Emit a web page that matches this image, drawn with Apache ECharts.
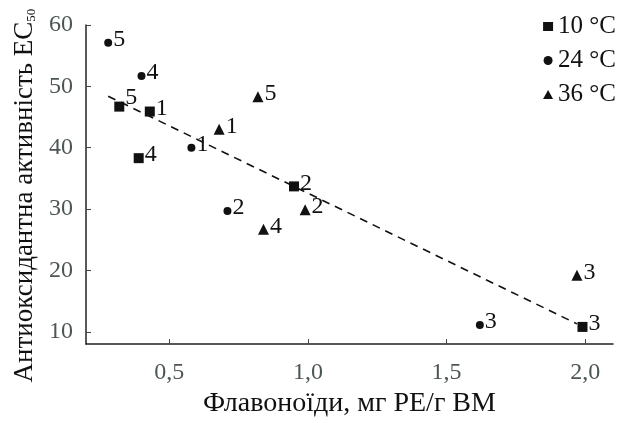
<!DOCTYPE html>
<html>
<head>
<meta charset="utf-8">
<script src="https://cdn.jsdelivr.net/npm/echarts@6/dist/echarts.min.js"></script>
<style>
  html, body { margin: 0; padding: 0; background: #fff; }
  #chart { width: 633px; height: 423px; }
</style>
</head>
<body>
<div id="chart"></div>
<script>
'use strict';

// sample numbers (point labels), same order in every series
var sampleLabels = ['1', '2', '3', '4', '5'];

// 10 °C
var flav10 = [0.43, 0.95, 1.99, 0.39, 0.32];
var ec10 = [45.9, 33.7, 10.8, 38.3, 46.7];

// 24 °C
var flav24 = [0.58, 0.71, 1.62, 0.40, 0.28];
var ec24 = [40.0, 29.7, 11.1, 51.7, 57.1];

// 36 °C
var flav36 = [0.68, 0.99, 1.97, 0.84, 0.82];
var ec36 = [43.0, 29.9, 19.2, 26.7, 48.3];

// dashed trend line ends
var trendX = [0.28, 1.97];
var trendY = [48.4, 11.3];

var xTicks = [0.5, 1.0, 1.5, 2.0];
var yTicks = [10, 20, 30, 40, 50, 60];

var seriesNames = ['10 °C', '24 °C', '36 °C'];

(function() {
  var FONT = '"Liberation Serif", "Times New Roman", serif';
  var INK = '#111';
  var chart = echarts.init(document.getElementById('chart'));

  function buildPoints(xs, ys, seriesIdx) {
    return xs.map(function(x, i) {
      var item = { value: [x, ys[i], sampleLabels[i]] };
      // the "5" beside the 10 °C square sits a bit higher in the original
      if (seriesIdx === 0 && sampleLabels[i] === '5') {
        item.label = { offset: [0, -9] };
      }
      return item;
    });
  }

  function scatter(idx, symbol, size, xs, ys) {
    return {
      name: seriesNames[idx],
      type: 'scatter',
      symbol: symbol,
      symbolSize: size,
      data: buildPoints(xs, ys, idx),
      itemStyle: { color: INK, opacity: 1 },
      label: {
        show: true,
        position: 'right',
        distance: 1,
        offset: [0, -3],
        formatter: function(p) { return p.value[2]; },
        fontFamily: FONT,
        fontSize: 24,
        color: INK
      },
      emphasis: { disabled: true },
      z: 3
    };
  }

  var trendData = trendX.map(function(x, i) { return [x, trendY[i]]; });

  chart.setOption({
    animation: false,
    backgroundColor: '#fff',
    grid: { left: 86, right: 20, top: 25, bottom: 70 },
    legend: {
      orient: 'vertical',
      right: 12,
      top: 9,
      itemGap: 9,
      itemWidth: 10,
      itemHeight: 9,
      textStyle: { fontFamily: FONT, fontSize: 25, color: INK },
      data: [
        { name: seriesNames[0], icon: 'rect', itemStyle: { opacity: 1 } },
        { name: seriesNames[1], icon: 'circle', itemStyle: { opacity: 1 } },
        { name: seriesNames[2], icon: 'triangle', itemStyle: { opacity: 1 } }
      ]
    },
    xAxis: {
      type: 'value',
      min: 0.2,
      max: 2.1,
      name: 'Флавоноїди, мг РЕ/г ВМ',
      nameLocation: 'middle',
      nameGap: 44,
      nameTextStyle: { fontFamily: FONT, fontSize: 28, color: INK },
      axisLine: { lineStyle: { color: '#222', width: 1.5 } },
      axisTick: { inside: true, length: 5, customValues: xTicks, lineStyle: { color: '#444' } },
      axisLabel: {
        customValues: xTicks,
        margin: 17,
        fontFamily: FONT,
        fontSize: 24,
        color: '#4d5656',
        formatter: function(v) { return v.toFixed(1).replace('.', ','); }
      },
      splitLine: { show: false }
    },
    yAxis: {
      type: 'value',
      min: 8,
      max: 60,
      name: '{a|Антиоксидантна активність EC}{s|50}',
      nameLocation: 'middle',
      nameGap: 48,
      nameTextStyle: {
        // extra space at the end pushes the rotated title a little lower
        padding: [0, 22, 0, 0],
        rich: {
          a: { fontFamily: FONT, fontSize: 27, color: INK },
          s: { fontFamily: FONT, fontSize: 13, color: INK, verticalAlign: 'bottom' }
        }
      },
      axisLine: { show: true, lineStyle: { color: '#222', width: 1.5 } },
      axisTick: { show: true, inside: true, length: 5, customValues: yTicks, lineStyle: { color: '#444' } },
      axisLabel: {
        customValues: yTicks,
        margin: 13,
        fontFamily: FONT,
        fontSize: 24,
        color: '#4d5656'
      },
      splitLine: { show: false }
    },
    series: [
      scatter(0, 'rect', 10, flav10, ec10),
      scatter(1, 'circle', 8, flav24, ec24),
      scatter(2, 'triangle', 11, flav36, ec36),
      {
        name: 'trend',
        type: 'line',
        data: trendData,
        symbol: 'none',
        lineStyle: { color: INK, width: 1.6, type: [8, 6] },
        silent: true,
        z: 1
      }
    ]
  });

  window.addEventListener('resize', function() { chart.resize(); });
})();
</script>
</body>
</html>
